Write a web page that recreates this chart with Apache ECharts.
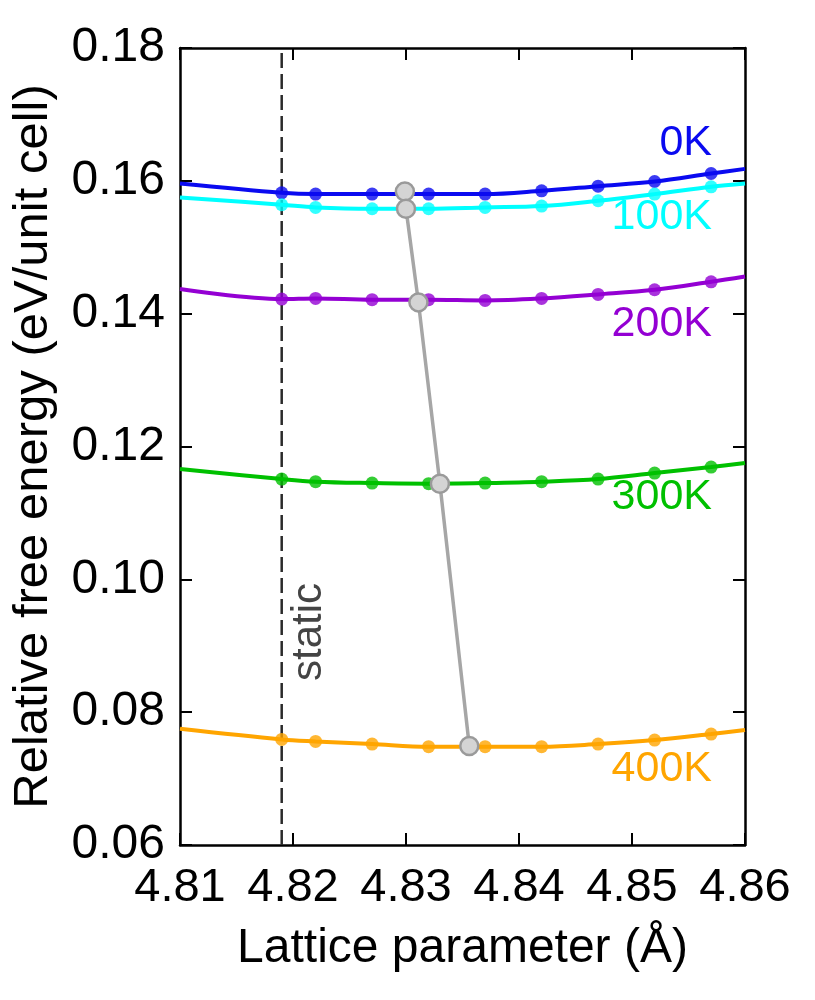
<!DOCTYPE html>
<html>
<head>
<meta charset="utf-8">
<script src="https://cdn.jsdelivr.net/npm/echarts@6/dist/echarts.min.js"></script>
<style>
html,body{margin:0;padding:0;background:#fff;}
#chart{width:815px;height:1000px;}
</style>
</head>
<body>
<div id="chart"></div>
<script>
// ---- data ----
const xPoints = [4.819, 4.822, 4.827, 4.832, 4.837, 4.842, 4.847, 4.852, 4.857];
const xEdges = [4.81, 4.86];
const temps = ['0K', '100K', '200K', '300K', '400K'];
const colors = ['#0a0af0', '#00ffff', '#9400d3', '#00c000', '#ffa500'];
const e0K   = [0.1582, 0.1580, 0.1580, 0.1580, 0.1580, 0.1585, 0.1592, 0.1599, 0.1611];
const e100K = [0.1564, 0.1560, 0.1558, 0.1558, 0.1560, 0.1562, 0.1570, 0.1580, 0.1591];
const e200K = [0.1422, 0.1423, 0.1421, 0.1421, 0.1420, 0.1423, 0.1429, 0.1436, 0.1448];
const e300K = [0.1151, 0.1147, 0.1145, 0.1144, 0.1145, 0.1147, 0.1151, 0.1160, 0.1169];
const e400K = [0.0759, 0.0756, 0.0752, 0.0748, 0.0748, 0.0748, 0.0752, 0.0758, 0.0767];
// fitted-curve values at the plot edges (4.81, 4.86)
const edge0K   = [0.1596, 0.1618];
const edge100K = [0.1575, 0.1596];
const edge200K = [0.1437, 0.1456];
const edge300K = [0.1166, 0.1175];
const edge400K = [0.0775, 0.0773];
// equilibrium (minimum) points
const minX = [4.8299, 4.8300, 4.8311, 4.8330, 4.8356];
const minY = [0.1584, 0.1558, 0.1417, 0.1144, 0.0749];
const staticX = 4.819;
const xTicks = [4.81, 4.82, 4.83, 4.84, 4.85, 4.86];
const yTicks = [0.06, 0.08, 0.10, 0.12, 0.14, 0.16, 0.18];

const energies = [e0K, e100K, e200K, e300K, e400K];
const edges = [edge0K, edge100K, edge200K, edge300K, edge400K];

const FONT = '"Liberation Sans", Arial, sans-serif';
const chart = echarts.init(document.getElementById('chart'));

const series = [];
temps.forEach((t, i) => {
  const curve = [[xEdges[0], edges[i][0]]]
    .concat(xPoints.map((x, k) => [x, energies[i][k]]))
    .concat([[xEdges[1], edges[i][1]]]);
  series.push({
    name: t + ' fit', type: 'line', data: curve, smooth: 0.35,
    showSymbol: false, symbol: 'none',
    lineStyle: {color: colors[i], width: 4}, z: 3, silent: true
  });
  series.push({
    name: t, type: 'scatter', data: xPoints.map((x, k) => [x, energies[i][k]]),
    symbol: 'circle', symbolSize: 13,
    itemStyle: {color: colors[i]}, z: 4, silent: true
  });
});
series.push({
  name: 'static', type: 'line',
  data: [[staticX, yTicks[0]], [staticX, yTicks[yTicks.length - 1]]],
  symbol: 'none',
  lineStyle: {color: '#2a2a2a', width: 2.5, type: [15, 6]}, z: 2, silent: true
});
series.push({
  name: 'minimum', type: 'line',
  data: minX.map((x, k) => [x, minY[k]]),
  symbol: 'circle', symbolSize: 18, showSymbol: true,
  lineStyle: {color: '#a6a6a6', width: 3.5},
  itemStyle: {color: '#d4d4d4', borderColor: '#9a9a9a', borderWidth: 2.5},
  z: 6, silent: true
});

const axisCommon = {
  type: 'value', interval: 0.01,
  axisLine: {show: true, onZero: false, lineStyle: {color: '#000', width: 2.5}},
  axisTick: {show: true, inside: true, length: 12, lineStyle: {color: '#000', width: 2}},
  splitLine: {show: false}
};

const labelDefs = [
  {t: '0K', y: 147}, {t: '100K', y: 221}, {t: '200K', y: 328},
  {t: '300K', y: 501}, {t: '400K', y: 773}
];

chart.setOption({
  animation: false,
  backgroundColor: '#fff',
  grid: {left: 180, right: 70, top: 48, bottom: 155},
  xAxis: [
    Object.assign({}, axisCommon, {
      min: xTicks[0], max: xTicks[xTicks.length - 1], position: 'bottom',
      axisLabel: {fontSize: 47, color: '#000', fontFamily: FONT, margin: 20,
        formatter: v => v.toFixed(2)},
      name: 'Lattice parameter (Å)', nameLocation: 'middle', nameGap: 80,
      nameTextStyle: {fontSize: 48, color: '#000', fontFamily: FONT}
    }),
    Object.assign({}, axisCommon, {
      min: xTicks[0], max: xTicks[xTicks.length - 1], position: 'top',
      axisLabel: {show: false}
    })
  ],
  yAxis: [
    Object.assign({}, axisCommon, {
      interval: 0.02, min: yTicks[0], max: yTicks[yTicks.length - 1], position: 'left',
      axisLabel: {fontSize: 48, color: '#000', fontFamily: FONT, margin: 15,
        formatter: v => v.toFixed(2)},
      name: 'Relative free energy (eV/unit cell)', nameLocation: 'middle', nameGap: 122,
      nameTextStyle: {fontSize: 49, color: '#000', fontFamily: FONT}
    }),
    Object.assign({}, axisCommon, {
      interval: 0.02, min: yTicks[0], max: yTicks[yTicks.length - 1], position: 'right',
      axisLabel: {show: false}
    })
  ],
  graphic: labelDefs.map((d, i) => ({
    type: 'text', right: 815 - 712, top: d.y - 25, z: 10,
    style: {text: d.t, fill: colors[i], font: '43px ' + FONT, textAlign: 'right'}
  })).concat([{
    type: 'text', x: 309, y: 632, rotation: Math.PI / 2, z: 10,
    style: {text: 'static', fill: '#444', font: '42px ' + FONT,
      textAlign: 'center', textVerticalAlign: 'middle'}
  }]),
  series: series
});
</script>
</body>
</html>
